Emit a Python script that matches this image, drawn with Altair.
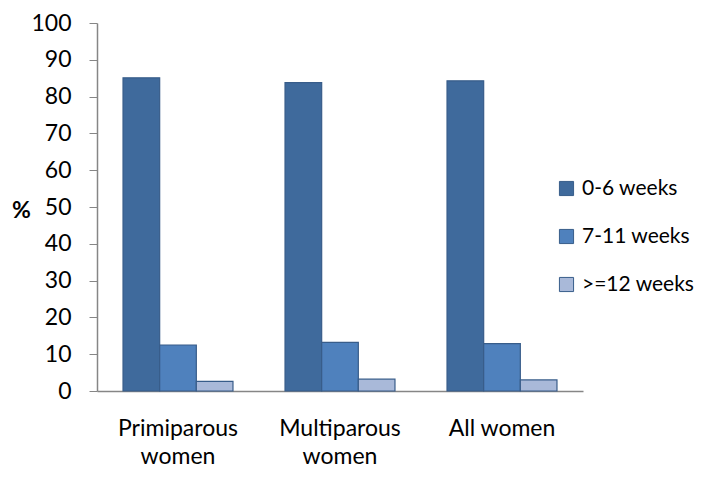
import altair as alt
import pandas as pd

groups = ["Primiparous|women", "Multiparous|women", "All women"]
series = ["0-6 weeks", "7-11 weeks", ">=12 weeks"]
v_0_6 = [85.1, 83.8, 84.3]
v_7_11 = [12.5, 13.2, 12.9]
v_12 = [2.6, 3.2, 3.0]
colors = ["#3F6A9C", "#4F81BD", "#A9B9D9"]

rows = []
for i, g in enumerate(groups):
    for s, vals in zip(series, [v_0_6, v_7_11, v_12]):
        rows.append({"group": g, "series": s, "value": vals[i]})
df = pd.DataFrame(rows)

FONT = "Lato"
FS = 23

chart = alt.Chart(df).mark_bar(stroke="#385D8A", strokeWidth=1.2).encode(
    x=alt.X("group:N", sort=groups,
            scale=alt.Scale(paddingInner=0, paddingOuter=0),
            axis=alt.Axis(title=None, labelAngle=0, ticks=False,
                          labelExpr="split(datum.label, '|')",
                          labelFont=FONT, labelFontSize=FS, labelColor="#000000",
                          labelPadding=26, labelLineHeight=28,
                          domainColor="#868686", domainWidth=1.5)),
    xOffset=alt.XOffset("series:N", sort=series,
                        scale=alt.Scale(paddingInner=0, paddingOuter=0.71)),
    y=alt.Y("value:Q",
            scale=alt.Scale(domain=[0, 100]),
            axis=alt.Axis(title="%", titleAngle=0, titleFont=FONT, titleFontSize=FS,
                          titleFontWeight="bold", titleColor="#000000",
                          titleX=-76, titleY=187, titleAlign="center", titleBaseline="middle",
                          values=list(range(0, 101, 10)), grid=False,
                          labelFont=FONT, labelFontSize=FS, labelColor="#000000",
                          labelPadding=18, tickSize=8, tickColor="#868686",
                          domainColor="#868686", domainWidth=1.5)),
    color=alt.Color("series:N", sort=series,
                    scale=alt.Scale(domain=series, range=colors),
                    legend=alt.Legend(title=None, orient="none", legendX=459, legendY=155,
                                      symbolType="square", symbolSize=200,
                                      symbolStrokeColor="#385D8A", symbolStrokeWidth=1,
                                      labelFont=FONT, labelFontSize=21, labelColor="#000000",
                                      labelOffset=5, rowPadding=26)),
).properties(
    width=486, height=368,
    autosize=alt.AutoSizeParams(type="none"),
    padding={"left": 89, "top": 15, "right": 120, "bottom": 78},
).configure_view(stroke=None)

chart.save("out.html", embed_options={"renderer": "svg", "actions": False})
